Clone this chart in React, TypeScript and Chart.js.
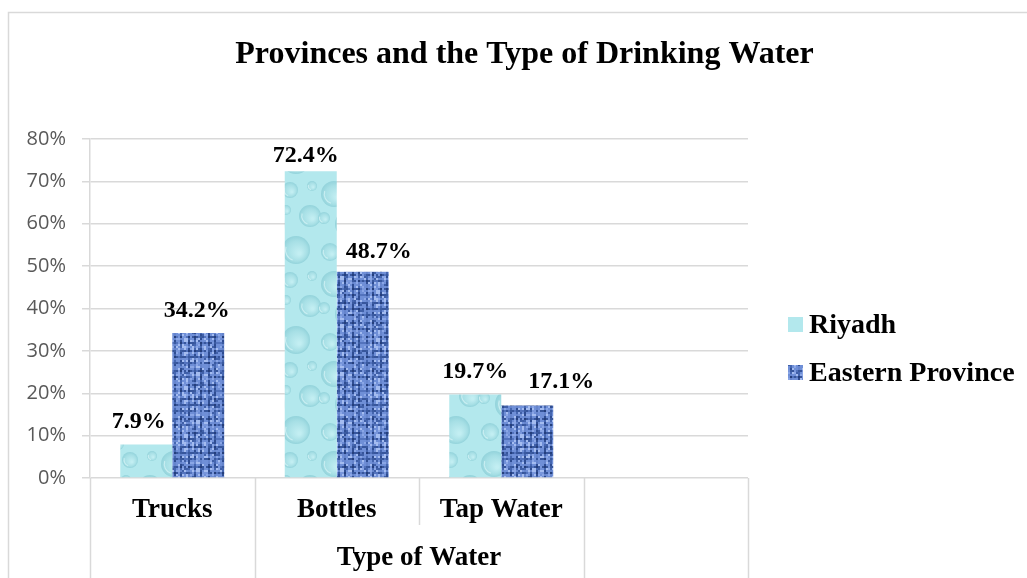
import React, { useEffect, useRef } from 'react';
import { Chart, registerables } from 'chart.js';

Chart.register(...registerables);

// ---- data ----
const chartTitle = 'Provinces and the Type of Drinking Water';
const categories = ['Trucks', 'Bottles', 'Tap Water', ''];
const groupLabel = 'Type of Water';
const seriesNames = ['Riyadh', 'Eastern Province'];
const riyadhValues = [7.9, 72.4, 19.7, null];
const easternValues = [34.2, 48.7, 17.1, null];
const yMin = 0;
const yMax = 80;
const yStep = 10;

// ---- label placement tweaks (manual positions in the original) ----
const labelDx = [
  [-7.5, -5, 0],
  [-1.5, 16, 34],
];
const labelGap = [
  [17, 9.5, 17],
  [16, 14, 17.5],
];

const SERIF = '"Liberation Serif", "Times New Roman", serif';
const GRID = '#d9d9d9';

function makeDropPattern(ctx: CanvasRenderingContext2D): CanvasPattern | string {
  const c = document.createElement('canvas');
  c.width = 80;
  c.height = 90;
  const g = c.getContext('2d');
  if (!g) return '#b4e8ee';
  g.fillStyle = '#b3e8ed';
  g.fillRect(0, 0, 80, 90);
  const drops: [number, number, number][] = [
    [14, 14, 13], [50, 10, 8], [70, 36, 11], [30, 44, 15], [10, 72, 9],
    [56, 70, 14], [38, 84, 6], [72, 6, 5], [4, 38, 6], [46, 30, 5],
  ];
  for (const [x, y, r] of drops) {
    for (const ox of [-80, 0, 80]) {
      for (const oy of [-90, 0, 90]) {
        const cx = x + ox;
        const cy = y + oy;
        const grad = g.createRadialGradient(cx + r * 0.25, cy + r * 0.25, r * 0.1, cx, cy, r);
        grad.addColorStop(0, '#c2eef2');
        grad.addColorStop(0.7, '#a6dfe5');
        grad.addColorStop(1, '#93d3db');
        g.fillStyle = grad;
        g.beginPath();
        g.arc(cx, cy, r, 0, Math.PI * 2);
        g.fill();
        g.strokeStyle = 'rgba(225,248,250,0.6)';
        g.lineWidth = 1.2;
        g.beginPath();
        g.arc(cx, cy, r * 0.75, Math.PI * 0.6, Math.PI * 1.1);
        g.stroke();
      }
    }
  }
  return ctx.createPattern(c, 'repeat') || '#b4e8ee';
}

function makeWovenPattern(ctx: CanvasRenderingContext2D): CanvasPattern | string {
  const cells = 24;
  const px = 2;
  const colThreads = [1, 4, 8, 11, 15, 18, 22];
  const rowThreads = [0, 3, 7, 10, 13, 17, 20];
  const c = document.createElement('canvas');
  c.width = cells * px;
  c.height = cells * px;
  const g = c.getContext('2d');
  if (!g) return '#5a7cc8';
  for (let y = 0; y < cells; y++) {
    for (let x = 0; x < cells; x++) {
      const h = ((x * 73856093) ^ (y * 19349663) ^ 0x5bd1e995) >>> 0;
      const k = (h >>> 3) % 13;
      let col = '#6f8fd7';
      const rowDark = rowThreads.includes(y);
      const colDark = colThreads.includes(x);
      if (rowDark && colDark) col = k < 8 ? '#253f7c' : '#3a5aa0';
      else if (colDark) col = k < 5 ? '#2f4d92' : k < 9 ? '#4566b0' : '#6584cc';
      else if (rowDark) col = k < 4 ? '#37569c' : k < 8 ? '#5373bd' : '#7896db';
      else if (k < 3) col = '#a4bcf0';
      else if (k < 5) col = '#8aa6e6';
      else if (k === 12) col = '#4060a8';
      g.fillStyle = col;
      g.fillRect(x * px, y * px, px, px);
    }
  }
  return ctx.createPattern(c, 'repeat') || '#5a7cc8';
}

export default function App() {
  const ref = useRef<HTMLCanvasElement | null>(null);

  useEffect(() => {
    const canvas = ref.current;
    if (!canvas) return;
    const ctx = canvas.getContext('2d');
    if (!ctx) return;
    const dropPat = makeDropPattern(ctx);
    const wovenPat = makeWovenPattern(ctx);
    const fills = [dropPat, wovenPat];

    const decor = {
      id: 'decor',
      beforeDraw(chart: any) {
        const c = chart.ctx;
        c.save();
        c.fillStyle = '#ffffff';
        c.fillRect(0, 0, chart.width, chart.height);
        c.strokeStyle = GRID;
        c.lineWidth = 1.5;
        c.strokeRect(8.5, 12.5, 1200, 800);
        c.restore();
      },
      afterDraw(chart: any) {
        const c = chart.ctx;
        const xs = chart.scales.x;
        const area = chart.chartArea;
        c.save();
        // title
        c.fillStyle = '#000000';
        c.font = `bold 32px ${SERIF}`;
        c.textAlign = 'center';
        c.textBaseline = 'alphabetic';
        c.fillText(chartTitle, 524.5, 63);

        // category separators
        const half = (xs.getPixelForValue(1) - xs.getPixelForValue(0)) / 2;
        const bounds: number[] = categories.map((_, i) => xs.getPixelForValue(i) - half);
        bounds.push(xs.getPixelForValue(categories.length - 1) + half);
        c.strokeStyle = GRID;
        c.lineWidth = 1.5;
        bounds.forEach((b, i) => {
          const full = i !== 2;
          c.beginPath();
          c.moveTo(Math.round(b) + 0.5, area.bottom);
          c.lineTo(Math.round(b) + 0.5, full ? chart.height : area.bottom + 47);
          c.stroke();
        });

        // category labels
        c.fillStyle = '#000000';
        c.font = `bold 27px ${SERIF}`;
        categories.forEach((lab, i) => {
          if (!lab) return;
          c.fillText(lab, xs.getPixelForValue(i), area.bottom + 39);
        });
        c.fillText(groupLabel, (bounds[1] + bounds[3]) / 2, area.bottom + 87);

        // data labels
        c.font = `bold 24px ${SERIF}`;
        chart.data.datasets.forEach((ds: any, di: number) => {
          const meta = chart.getDatasetMeta(di);
          meta.data.forEach((bar: any, i: number) => {
            const v = ds.data[i];
            if (v === null || v === undefined) return;
            const dx = (labelDx[di] && labelDx[di][i]) || 0;
            const gap = (labelGap[di] && labelGap[di][i]) || 16;
            c.fillText(v.toFixed(1) + '%', bar.x + dx, bar.y - gap);
          });
        });

        // legend
        c.textAlign = 'left';
        c.font = `bold 28px ${SERIF}`;
        const legendY = [317, 365];
        seriesNames.forEach((name, i) => {
          c.fillStyle = fills[i] as any;
          c.fillRect(788, legendY[i], 15, 15);
          c.fillStyle = '#000000';
          c.fillText(name, 809, legendY[i] + 16);
        });
        c.restore();
      },
    };

    const chart = new Chart(canvas, {
      type: 'bar',
      data: {
        labels: categories,
        datasets: [
          {
            label: seriesNames[0],
            data: riyadhValues,
            backgroundColor: dropPat as any,
            borderWidth: 0,
            categoryPercentage: 0.632,
            barPercentage: 1.0,
          },
          {
            label: seriesNames[1],
            data: easternValues,
            backgroundColor: wovenPat as any,
            borderWidth: 0,
            categoryPercentage: 0.632,
            barPercentage: 1.0,
          },
        ],
      },
      options: {
        responsive: false,
        animation: false,
        layout: { padding: { left: 0, top: 139, right: 279, bottom: 0 } },
        plugins: {
          legend: { display: false },
          title: { display: false },
          tooltip: { enabled: false },
        },
        scales: {
          x: {
            ticks: { display: false },
            grid: { display: false },
            border: { display: false },
            afterFit: (scale: any) => {
              scale.height = 100;
            },
          },
          y: {
            min: yMin,
            max: yMax,
            ticks: {
              stepSize: yStep,
              color: '#595959',
              padding: 16,
              font: { family: '"Open Sans", "Noto Sans", sans-serif', size: 20 },
              callback: (v: any) => `${v}%`,
            },
            grid: { color: GRID, lineWidth: 1.5, tickLength: 8 },
            border: { display: true, color: GRID, width: 1.5 },
            afterFit: (scale: any) => {
              scale.width = 90;
            },
          },
        },
      },
      plugins: [decor],
    });

    return () => chart.destroy();
  }, []);

  return (
    <div style={{ position: 'absolute', left: 0, top: 0, width: 1027, height: 578 }}>
      <canvas ref={ref} width={1027} height={578} style={{ width: 1027, height: 578, display: 'block' }} />
    </div>
  );
}
